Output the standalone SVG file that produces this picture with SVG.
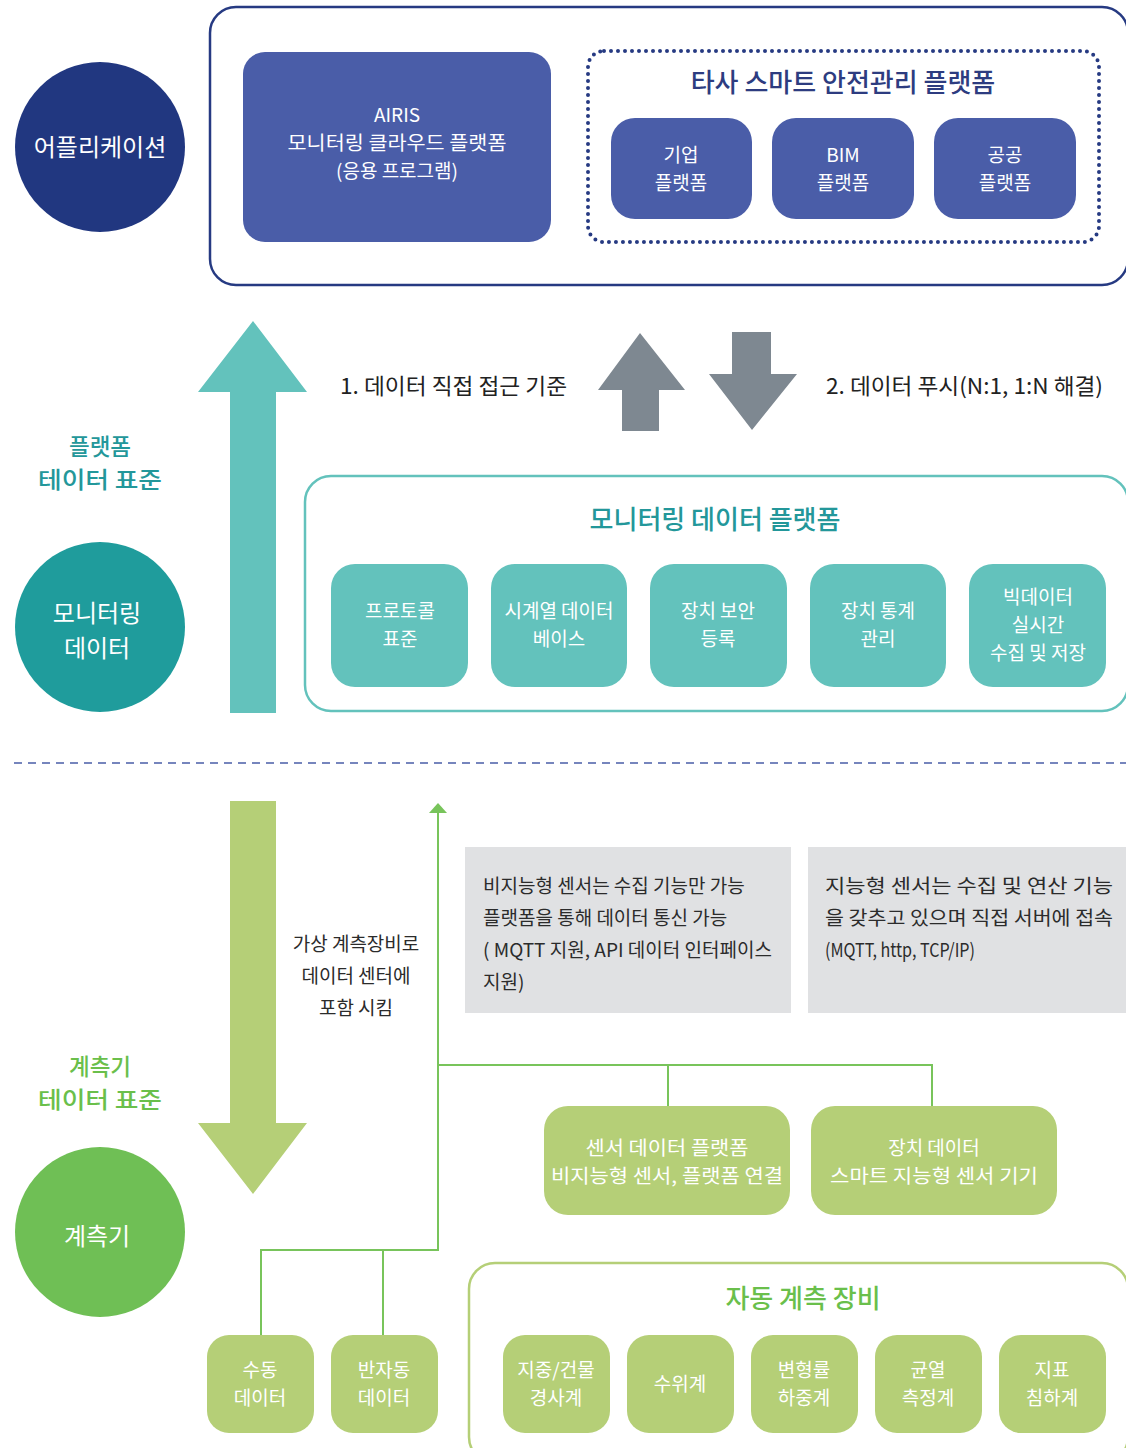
<svg xmlns="http://www.w3.org/2000/svg" width="1126" height="1448" viewBox="0 0 1126 1448">
<style>
text{font-family:"Noto Sans CJK KR","Noto Sans",sans-serif;}
.w{fill:#fff;font-size:19px;text-anchor:middle;}
.wc{fill:#fff;font-size:24px;text-anchor:middle;}
.navy{fill:#4a5da8;}
.teal{fill:#63c2bc;}
.lg{fill:#b5cf77;}
.dk{fill:#2b2b2b;font-size:19px;}
.ttl{font-size:26px;text-anchor:middle;font-weight:500;}
.lbl{font-size:22.5px;text-anchor:middle;font-weight:500;}
.gl{stroke:#78c45b;stroke-width:2;fill:none;}
</style>
<rect width="1126" height="1448" fill="#fff"/>

<g id="app-circle"><circle cx="100" cy="147" r="85" fill="#213780"/><text class="wc" x="100" y="156" font-size="25.5">어플리케이션</text></g>
<g id="app-frame"><rect x="210" y="7" width="918" height="278" rx="26" fill="none" stroke="#263a82" stroke-width="2.5"/></g>
<g id="airis"><rect class="navy" x="243" y="52" width="308" height="190" rx="22"/>
<text class="w" x="397" y="122">AIRIS</text><text class="w" x="397" y="150" textLength="219" lengthAdjust="spacingAndGlyphs">모니터링 클라우드 플랫폼</text><text class="w" x="397" y="178">(응용 프로그램)</text></g>
<g id="other-platforms"><rect x="588" y="51" width="511" height="191" rx="16" fill="none" stroke="#263a82" stroke-width="4" stroke-dasharray="0 7" stroke-linecap="round"/>
<text class="ttl" x="843" y="92" fill="#2d3c80" font-size="27">타사 스마트 안전관리 플랫폼</text></g>
<g id="corp"><rect class="navy" x="611" y="118" width="141" height="101" rx="24"/><text class="w" x="681" y="162">기업</text><text class="w" x="681" y="190">플랫폼</text></g>
<g id="bim"><rect class="navy" x="772" y="118" width="142" height="101" rx="24"/><text class="w" x="843" y="162">BIM</text><text class="w" x="843" y="190">플랫폼</text></g>
<g id="public"><rect class="navy" x="934" y="118" width="142" height="101" rx="24"/><text class="w" x="1005" y="162">공공</text><text class="w" x="1005" y="190">플랫폼</text></g>

<g id="arrows">
<polygon points="230,713 276,713 276,392 307,392 253,321 198,392 230,392" fill="#63c2bc"/>
<polygon points="622,431 659,431 659,390 685,390 640,333 598,390 622,390" fill="#7e8891"/>
<polygon points="732,332 771,332 771,374 797,374 752,430 709,374 732,374" fill="#7e8891"/>
<polygon points="230,801 276,801 276,1123 307,1123 253,1194 198,1123 230,1123" fill="#b5cf77"/>
<line class="gl" x1="438" y1="812" x2="438" y2="1251"/>
<polygon points="429,813 447,813 438,803" fill="#78c45b"/>
<polyline class="gl" points="438,1065 932,1065 932,1107"/>
<line class="gl" x1="668" y1="1065" x2="668" y2="1107"/>
<polyline class="gl" points="438,1250 261,1250 261,1336"/>
<line class="gl" x1="383" y1="1250" x2="383" y2="1336"/>
<line x1="14" y1="763" x2="1126" y2="763" stroke="#4a5da8" stroke-width="1.5" stroke-dasharray="8 6"/>
</g>

<g id="arrow-labels">
<text x="340" y="394" fill="#222" font-size="22" textLength="227" lengthAdjust="spacingAndGlyphs">1. 데이터 직접 접근 기준</text>
<text x="826" y="394" fill="#222" font-size="22" textLength="277" lengthAdjust="spacingAndGlyphs">2. 데이터 푸시(N:1, 1:N 해결)</text>
</g>

<g id="platform-std"><text class="lbl" x="100" y="454.5" fill="#23979a">플랫폼</text><text class="lbl" x="100" y="487.5" fill="#23979a" textLength="124" lengthAdjust="spacingAndGlyphs">테이터 표준</text></g>
<g id="monitor-circle"><circle cx="100" cy="627" r="85" fill="#1f9c9c"/><text class="wc" x="97" y="621.5">모니터링</text><text class="wc" x="97" y="656.5">데이터</text></g>
<g id="monitor-platform"><rect x="305" y="476" width="823" height="235" rx="26" fill="none" stroke="#63c2bc" stroke-width="2.5"/>
<text class="ttl" x="715" y="529" fill="#23979a">모니터링 데이터 플랫폼</text></g>
<g id="protocol"><rect class="teal" x="331" y="564" width="137" height="123" rx="24"/><text class="w" x="400" y="618">프로토콜</text><text class="w" x="400" y="646">표준</text></g>
<g id="timeseries"><rect class="teal" x="491" y="564" width="136" height="123" rx="24"/><text class="w" x="559" y="618">시계열 데이터</text><text class="w" x="559" y="646">베이스</text></g>
<g id="security"><rect class="teal" x="650" y="564" width="137" height="123" rx="24"/><text class="w" x="718" y="618">장치 보안</text><text class="w" x="718" y="646">등록</text></g>
<g id="stats"><rect class="teal" x="810" y="564" width="136" height="123" rx="24"/><text class="w" x="878" y="618">장치 통계</text><text class="w" x="878" y="646">관리</text></g>
<g id="bigdata"><rect class="teal" x="969" y="564" width="137" height="123" rx="24"/><text class="w" x="1038" y="604">빅데이터</text><text class="w" x="1038" y="632">실시간</text><text class="w" x="1038" y="660">수집 및 저장</text></g>

<g id="virtual-note"><text class="dk" x="356" y="951" text-anchor="middle" font-size="18.5">가상 계측장비로</text><text class="dk" x="356" y="983" text-anchor="middle" font-size="18.5">데이터 센터에</text><text class="dk" x="356" y="1015" text-anchor="middle" font-size="18.5">포함 시킴</text></g>
<g id="note1"><rect x="465" y="847" width="326" height="166" fill="#e0e1e3"/>
<text class="dk" x="483" y="893">비지능형 센서는 수집 기능만 가능</text>
<text class="dk" x="483" y="925">플랫폼을 통해 데이터 통신 가능</text>
<text class="dk" x="483" y="957" textLength="289" lengthAdjust="spacingAndGlyphs">( MQTT 지원, API 데이터 인터페이스</text>
<text class="dk" x="483" y="989">지원)</text></g>
<g id="note2"><rect x="808" y="847" width="318" height="166" fill="#e0e1e3"/>
<text class="dk" x="825" y="893" textLength="288" lengthAdjust="spacingAndGlyphs">지능형 센서는 수집 및 연산 기능</text>
<text class="dk" x="825" y="925" textLength="288" lengthAdjust="spacingAndGlyphs">을 갖추고 있으며 직접 서버에 접속</text>
<text class="dk" x="825" y="957" textLength="150" lengthAdjust="spacingAndGlyphs">(MQTT, http, TCP/IP)</text></g>

<g id="meter-std"><text class="lbl" x="100" y="1074.5" fill="#6abf4b">계측기</text><text class="lbl" x="100" y="1107.5" fill="#6abf4b" textLength="124" lengthAdjust="spacingAndGlyphs">테이터 표준</text></g>
<g id="meter-circle"><circle cx="100" cy="1232" r="85" fill="#6fbf55"/><text class="wc" x="97" y="1245" font-size="25.5">계측기</text></g>
<g id="sensor-platform"><rect class="lg" x="544" y="1106" width="246" height="109" rx="24"/><text class="w" x="667" y="1154.5" textLength="163" lengthAdjust="spacingAndGlyphs">센서 데이터 플랫폼</text><text class="w" x="667" y="1182.5" textLength="232" lengthAdjust="spacingAndGlyphs">비지능형 센서, 플랫폼 연결</text></g>
<g id="device-data"><rect class="lg" x="811" y="1106" width="246" height="109" rx="24"/><text class="w" x="934" y="1154.5">장치 데이터</text><text class="w" x="934" y="1182.5" textLength="208" lengthAdjust="spacingAndGlyphs">스마트 지능형 센서 기기</text></g>
<g id="manual"><rect class="lg" x="207" y="1335" width="107" height="98" rx="22"/><text class="w" x="260" y="1376.5">수동</text><text class="w" x="260" y="1404.5">데이터</text></g>
<g id="semi-auto"><rect class="lg" x="331" y="1335" width="107" height="98" rx="22"/><text class="w" x="384" y="1376.5">반자동</text><text class="w" x="384" y="1404.5">데이터</text></g>
<g id="auto-equip"><rect x="469" y="1263" width="659" height="200" rx="26" fill="none" stroke="#b5cf77" stroke-width="2.5"/>
<text class="ttl" x="803" y="1308" fill="#6abf4b">자동 계측 장비</text></g>
<g id="tilt"><rect class="lg" x="503" y="1335" width="107" height="98" rx="22"/><text class="w" x="556" y="1376.5">지중/건물</text><text class="w" x="556" y="1404.5">경사계</text></g>
<g id="water"><rect class="lg" x="627" y="1335" width="107" height="98" rx="22"/><text class="w" x="680" y="1391">수위계</text></g>
<g id="strain"><rect class="lg" x="751" y="1335" width="107" height="98" rx="22"/><text class="w" x="804" y="1376.5">변형률</text><text class="w" x="804" y="1404.5">하중계</text></g>
<g id="crack"><rect class="lg" x="875" y="1335" width="107" height="98" rx="22"/><text class="w" x="928" y="1376.5">균열</text><text class="w" x="928" y="1404.5">측정계</text></g>
<g id="settle"><rect class="lg" x="999" y="1335" width="107" height="98" rx="22"/><text class="w" x="1052" y="1376.5">지표</text><text class="w" x="1052" y="1404.5">침하계</text></g>
</svg>
